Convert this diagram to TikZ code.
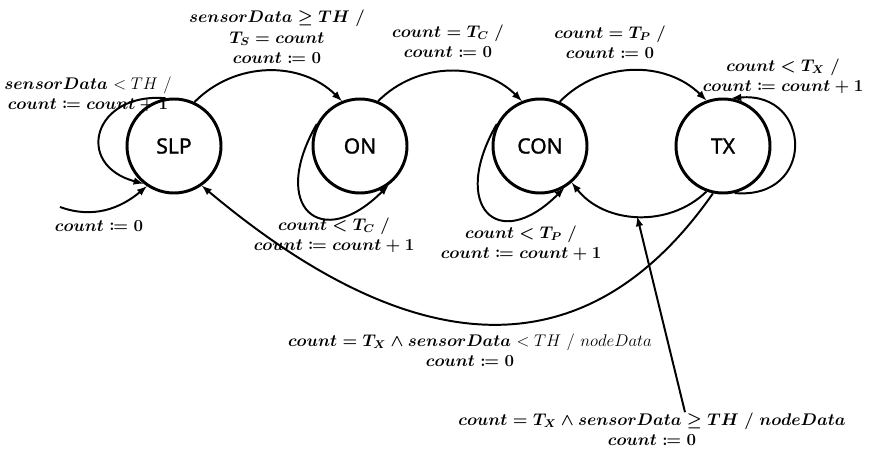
\documentclass[tikz,border=0pt]{standalone}
\usepackage{amsmath}
\usepackage{amssymb}
\usepackage{mathtools}
\usepackage{fontspec}
\newfontfamily\statefont{Noto Sans}[FakeBold=1.2]
\newcommand{\nb}[1]{\text{\unboldmath$#1$}}

\begin{document}
\begin{tikzpicture}[x=0.25mm,y=0.25mm,>=latex,
  state/.style={circle,draw,line width=2.1pt,minimum size=23.5mm,inner sep=0pt,
    font=\statefont\fontsize{15}{17}\selectfont},
  trans/.style={->,line width=1.4pt},
  lbl/.style={align=center,inner sep=0pt,font=\fontsize{12}{14.5}\selectfont\boldmath}]
 \useasboundingbox (0,0) rectangle (871,452);

 \node[state] (slp) at (174,306) {SLP};
 \node[state] (on)  at (360,306) {ON};
 \node[state] (con) at (540,306) {CON};
 \node[state] (tx)  at (723,306) {TX};
 \coordinate (init) at (60,245);

 \draw[trans] (init) to[out=-20,in=220] (slp.236);
 \draw[trans] (slp.100) to[out=175,in=165,looseness=2.1] (slp.231);
 \draw[trans] (slp.65) to[bend left=45] (on.112);
 \draw[trans] (on.153) to[out=240,in=225,looseness=2.6] (on.306);
 \draw[trans] (on.68) to[bend left=45] (con.112);
 \draw[trans] (con.153) to[out=240,in=225,looseness=2.6] (con.300);
 \draw[trans] (con.66) to[bend left=45] (tx.110);
 \draw[trans] (tx.284) to[out=-5,in=5,looseness=2.2] (tx.80);
 \draw[trans] (tx.250) to[bend left=48] coordinate (txcon) (con.311);
 \draw[trans] (tx.258) to[out=235,in=-40,looseness=1.22] (slp.305);

 \node[lbl] (lslp)   at (88,358)  {$sensorData\ \nb{<TH\ /}$\\$count \coloneqq count+1$};
 \node[lbl] (linit)  at (99,226)  {$count \coloneqq 0$};
 \node[lbl] (lslpon) at (277,415) {$sensorData \geq TH\ /$\\$T_S = count$\\$count \coloneqq 0$};
 \node[lbl] (loncon) at (448,411) {$count = T_C\ /$\\$count \coloneqq 0$};
 \node[lbl] (lcontx) at (610,410) {$count = T_P\ /$\\$count \coloneqq 0$};
 \node[lbl] (ltx)    at (783,376) {$count < T_X\ /$\\$count \coloneqq count+1$};
 \node[lbl] (lon)    at (334,217) {$count < T_C\ /$\\$count \coloneqq count+1$};
 \node[lbl] (lcon)   at (521,209) {$count < T_P\ /$\\$count \coloneqq count+1$};
 \node[lbl] (ltxslp) at (470,102) {$count = T_X \wedge sensorData\ \nb{<TH\ /\ nodeData}$\\$count \coloneqq 0$};
 \node[lbl] (ltxcon) at (652,23)  {$count = T_X \wedge sensorData \geq TH\ /\ nodeData$\\$count \coloneqq 0$};

 \draw[trans] ([xshift=8.25mm]ltxcon.north) -- (txcon);
\end{tikzpicture}
\end{document}
